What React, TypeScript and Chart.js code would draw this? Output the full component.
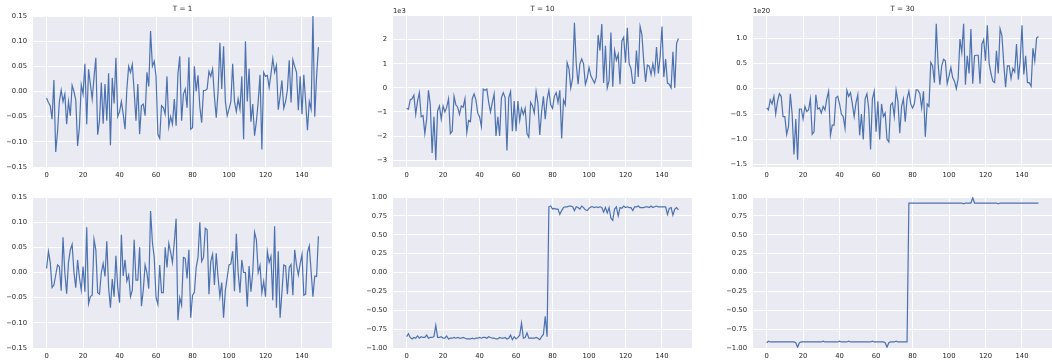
import { useEffect, useRef } from "react";
import { Chart, registerables } from "chart.js";

Chart.register(...registerables);

// ---------------- data ----------------
const X_TICKS = [0, 20, 40, 60, 80, 100, 120, 140];
const X_MIN = -7.45;
const X_MAX = 156.45;

const TITLES = ["T = 1", "T = 10", "T = 30"];
const OFFSET_T10 = "1e3";
const OFFSET_T30 = "1e20";

const Y_TICKS_SMALL = [-0.15, -0.1, -0.05, 0, 0.05, 0.1, 0.15];
const Y_TICKS_T10 = [-3, -2, -1, 0, 1, 2];
const Y_TICKS_T30 = [-1.5, -1.0, -0.5, 0, 0.5, 1.0];
const Y_TICKS_UNIT = [-1, -0.75, -0.5, -0.25, 0, 0.25, 0.5, 0.75, 1];

// top row, T = 1
const topT1 = [
  -0.013, -0.022, -0.028, -0.055, 0.023, -0.120, -0.080, -0.020, 0.003, -0.020,
  -0.005, -0.065, -0.020, -0.048, 0.012, 0.000, -0.017, -0.108, -0.070, 0.013,
  -0.005, 0.055, -0.065, 0.044, 0.015, -0.015, 0.028, 0.067, -0.086, -0.058,
  0.018, -0.064, 0.015, -0.058, 0.036, -0.107, 0.027, -0.024, 0.067, -0.050,
  -0.040, -0.020, -0.045, -0.075, 0.005, 0.050, 0.038, 0.054, 0.000, -0.058,
  0.015, -0.085, -0.028, -0.025, -0.048, 0.038, 0.010, 0.120, 0.050, 0.060,
  0.030, -0.085, -0.093, -0.028, -0.032, -0.045, 0.030, -0.070, -0.050, -0.065,
  -0.015, -0.068, 0.035, 0.070, -0.058, -0.005, 0.005, -0.032, 0.068, -0.075,
  -0.072, 0.050, 0.000, 0.032, -0.030, -0.062, 0.002, 0.002, 0.005, 0.040,
  0.030, 0.045, -0.010, -0.052, 0.000, 0.097, 0.005, 0.090, -0.020, -0.048,
  -0.035, -0.020, 0.055, -0.020, -0.040, -0.015, -0.035, 0.030, -0.095, 0.100,
  -0.020, 0.045, -0.060, -0.025, -0.088, -0.060, -0.020, 0.033, -0.115, 0.038,
  0.030, 0.032, 0.008, 0.035, 0.065, 0.038, 0.052, -0.036, -0.010, 0.022,
  -0.033, -0.020, 0.003, 0.062, -0.022, 0.063, 0.050, 0.038, -0.037, 0.030,
  -0.045, 0.033, -0.020, -0.077, -0.020, -0.035, 0.150, -0.050, 0.030, 0.088,
];

// top row, T = 10 (units of 1e3)
const topT10 = [
  -0.85, -0.88, -0.50, -0.45, -0.30, -1.10, -0.55, -0.20, -1.20, -1.15,
  -1.90, -1.30, -0.10, -0.70, -2.70, -1.20, -3.00, -0.95, -0.75, -1.30,
  -0.75, -1.00, -0.80, -0.45, -1.90, -1.80, -0.35, -0.70, -0.80, -1.10,
  -0.75, -0.80, -0.45, -1.85, -1.35, -1.40, -0.45, -0.25, -0.50, -1.05,
  -1.20, -1.60, -0.05, -0.10, -0.05, -0.60, -1.00, -0.60, -0.25, -2.00,
  -1.20, -2.00, -0.40, -0.20, -0.40, -2.60, -0.40, -0.15, -1.80, -0.55,
  -1.80, -0.55, -1.35, -0.85, -1.10, -0.85, -1.90, -2.05, -0.60, -0.75,
  -1.05, -0.15, -0.65, -1.95, -1.00, -0.35, -1.30, -0.50, -0.10, -0.70,
  -0.85, -0.35, -0.20, -0.60, -0.10, -2.10, -0.50, -0.70, 1.05, 0.80,
  0.00, 0.40, 2.70, 1.00, 0.15, 1.00, 1.20, 1.00, 0.15, 0.40,
  0.85, 0.50, 0.35, 0.20, 0.45, 2.20, 1.55, 2.65, 0.20, 1.75,
  0.00, 0.30, 2.30, 0.05, 1.55, 1.15, 1.40, 0.15, 1.95, 2.10,
  1.05, 2.50, 1.00, 0.80, 0.20, 0.20, 1.55, 0.45, 2.55, 2.20,
  1.10, 0.25, 0.95, 0.90, 0.55, 1.00, 0.60, 1.70, 0.60, 1.30,
  2.55, 0.45, 1.20, 0.20, 0.15, 0.00, 1.50, 0.00, 1.85, 2.05,
];

// top row, T = 30 (units of 1e20)
const topT30 = [
  -0.38, -0.42, -0.22, -0.30, -0.15, -0.50, -0.25, -0.10, -0.15, -0.55,
  -0.55, -0.90, -0.75, -0.10, -0.50, -1.30, -0.60, -1.40, -0.40, -0.40,
  -0.60, -0.35, -0.45, -0.42, -0.20, -0.90, -0.85, -0.12, -0.40, -0.38,
  -0.48, -0.35, -0.42, -0.20, -0.05, -0.92, -0.72, -0.72, -0.18, -0.15,
  -0.30, -0.50, -0.55, -0.78, -0.03, -0.15, -0.08, -0.30, -0.55, -0.28,
  -0.12, -0.92, -0.50, -1.00, -0.20, -0.10, -0.40, -1.20, -0.20, -0.05,
  -0.85, -0.25, -1.00, -0.30, -0.55, -0.48, -1.00, -1.05, -0.32, -0.28,
  -0.55, -0.03, -0.25, -0.88, -0.35, -0.20, -0.65, -0.20, -0.05, -0.30,
  -0.38, -0.30, -0.02, -0.03, -0.10, -0.38, -0.05, -0.95, -0.30, -0.35,
  0.52, 0.45, 0.12, 1.28, 0.50, 0.08, 0.45, 0.58, 0.55, 0.10,
  0.25, 0.42, 0.22, 0.15, 0.00, 0.20, 0.98, 0.72, 1.28, 0.08,
  0.65, 0.30, 1.18, 0.10, 0.65, 0.66, 0.66, 0.10, 0.88, 0.97,
  0.55, 1.25, 0.50, 0.30, 0.15, 0.12, 0.75, 0.30, 1.18, 1.05,
  0.50, 0.03, 0.45, 0.45, 0.20, 0.40, 0.33, 0.88, 0.18, 0.55,
  1.25, 0.28, 0.65, 0.12, 0.12, 0.05, 0.80, 0.55, 1.00, 1.03,
];

// bottom row, T = 1
const bottomT1 = [
  0.008, 0.042, 0.020, -0.030, -0.025, -0.005, 0.015, 0.012, -0.036, 0.070,
  0.000, -0.042, 0.020, 0.045, 0.056, 0.000, -0.030, 0.025, -0.010, -0.035,
  0.012, -0.038, 0.090, -0.062, -0.048, -0.045, 0.066, 0.045, -0.040, -0.043,
  0.000, 0.018, -0.008, 0.062, -0.030, -0.070, -0.013, -0.048, 0.033, -0.030,
  -0.060, 0.075, -0.007, 0.025, -0.017, -0.005, -0.048, -0.035, 0.065, -0.015,
  -0.015, 0.050, -0.067, -0.035, 0.015, 0.000, -0.032, 0.122, 0.060, 0.030,
  -0.050, -0.063, 0.015, -0.040, -0.040, 0.050, 0.010, 0.058, 0.040, 0.020,
  0.060, 0.107, -0.095, -0.050, -0.065, 0.030, 0.028, -0.012, 0.045, -0.090,
  -0.045, -0.040, 0.010, 0.030, 0.100, 0.022, 0.030, 0.088, 0.085, -0.043,
  0.022, 0.036, -0.025, 0.038, -0.010, -0.048, -0.020, -0.090, -0.035, -0.010,
  0.015, 0.017, 0.042, -0.037, 0.077, 0.000, -0.040, 0.025, 0.000, 0.000,
  -0.068, 0.013, -0.038, 0.000, 0.080, 0.065, 0.000, 0.014, -0.040, -0.018,
  -0.048, 0.042, 0.020, 0.032, -0.055, 0.092, -0.070, 0.042, -0.090, -0.040,
  0.015, 0.013, -0.043, 0.010, 0.016, -0.045, 0.045, 0.015, -0.005, 0.017,
  0.036, -0.045, -0.043, 0.040, 0.053, 0.002, -0.048, -0.007, -0.008, 0.072,
];

// bottom row, T = 10
const bottomT10 = [
  -0.85, -0.81, -0.86, -0.88, -0.86, -0.87, -0.84, -0.87, -0.85, -0.86,
  -0.86, -0.83, -0.87, -0.86, -0.86, -0.85, -0.70, -0.86, -0.86, -0.85,
  -0.87, -0.87, -0.84, -0.88, -0.87, -0.87, -0.86, -0.87, -0.86, -0.87,
  -0.87, -0.86, -0.87, -0.88, -0.88, -0.88, -0.87, -0.88, -0.87, -0.87,
  -0.86, -0.87, -0.86, -0.86, -0.87, -0.85, -0.86, -0.87, -0.87, -0.88,
  -0.88, -0.86, -0.87, -0.87, -0.86, -0.88, -0.87, -0.83, -0.89, -0.85,
  -0.88, -0.86, -0.83, -0.67, -0.87, -0.86, -0.80, -0.87, -0.87, -0.87,
  -0.87, -0.86, -0.87, -0.89, -0.85, -0.82, -0.58, -0.85, 0.87, 0.88,
  0.84, 0.85, 0.84, 0.84, 0.77, 0.82, 0.86, 0.87, 0.87, 0.88,
  0.88, 0.87, 0.82, 0.87, 0.86, 0.84, 0.88, 0.86, 0.83, 0.82,
  0.85, 0.87, 0.87, 0.86, 0.87, 0.86, 0.87, 0.86, 0.80, 0.86,
  0.79, 0.86, 0.72, 0.69, 0.84, 0.87, 0.75, 0.86, 0.85, 0.88,
  0.86, 0.87, 0.86, 0.86, 0.82, 0.87, 0.87, 0.88, 0.86, 0.86,
  0.86, 0.87, 0.87, 0.86, 0.88, 0.86, 0.87, 0.88, 0.87, 0.87,
  0.87, 0.87, 0.87, 0.77, 0.85, 0.86, 0.76, 0.84, 0.86, 0.83,
];

// bottom row, T = 30
const bottomT30 = [
  -0.93, -0.91, -0.92, -0.92, -0.92, -0.92, -0.92, -0.92, -0.92, -0.92,
  -0.92, -0.92, -0.92, -0.92, -0.92, -0.92, -0.93, -0.99, -0.93, -0.92,
  -0.92, -0.92, -0.92, -0.92, -0.92, -0.92, -0.92, -0.92, -0.92, -0.92,
  -0.92, -0.91, -0.92, -0.92, -0.92, -0.92, -0.92, -0.92, -0.92, -0.92,
  -0.91, -0.92, -0.92, -0.92, -0.92, -0.91, -0.92, -0.92, -0.92, -0.92,
  -0.92, -0.92, -0.92, -0.92, -0.92, -0.92, -0.92, -0.92, -0.91, -0.92,
  -0.92, -0.92, -0.92, -0.92, -0.92, -0.93, -0.99, -0.93, -0.92, -0.92,
  -0.92, -0.91, -0.92, -0.92, -0.92, -0.92, -0.92, -0.92, 0.92, 0.92,
  0.92, 0.92, 0.92, 0.92, 0.92, 0.92, 0.92, 0.92, 0.92, 0.92,
  0.92, 0.92, 0.92, 0.92, 0.92, 0.92, 0.92, 0.92, 0.92, 0.92,
  0.92, 0.92, 0.92, 0.92, 0.92, 0.92, 0.92, 0.92, 0.91, 0.92,
  0.92, 0.92, 0.92, 0.99, 0.92, 0.92, 0.92, 0.92, 0.92, 0.92,
  0.92, 0.92, 0.92, 0.92, 0.92, 0.92, 0.92, 0.91, 0.92, 0.92,
  0.92, 0.92, 0.92, 0.92, 0.92, 0.92, 0.92, 0.92, 0.92, 0.92,
  0.92, 0.92, 0.92, 0.92, 0.92, 0.92, 0.92, 0.92, 0.92, 0.92,
];

// ---------------- styling / layout ----------------
const FONT = "'DejaVu Sans', 'Liberation Sans', sans-serif";
const TEXT = "#262626";
const LINE = "#4C72B0";
const FACE = "#EAEAF2";

const COLS = [
  { left: 0, yw: 33 },
  { left: 345, yw: 48 },
  { left: 705, yw: 48 },
];
const PLOT_W = 299;
const ROWS = [
  { top: 0, height: 181, xh: 14 },
  { top: 181, height: 179, xh: 12 },
];
const PAD_TOP = 16;

type PanelCfg = {
  values: number[];
  title: string;
  offset: string;
  yMin: number;
  yMax: number;
  yTicks: number[];
  dec: number;
  col: number;
  row: number;
};

const PANELS: PanelCfg[] = [
  { values: topT1, title: TITLES[0], offset: "", yMin: -0.15, yMax: 0.15, yTicks: Y_TICKS_SMALL, dec: 2, col: 0, row: 0 },
  { values: topT10, title: TITLES[1], offset: OFFSET_T10, yMin: -3.285, yMax: 2.985, yTicks: Y_TICKS_T10, dec: 0, col: 1, row: 0 },
  { values: topT30, title: TITLES[2], offset: OFFSET_T30, yMin: -1.545, yMax: 1.435, yTicks: Y_TICKS_T30, dec: 1, col: 2, row: 0 },
  { values: bottomT1, title: "", offset: "", yMin: -0.15, yMax: 0.15, yTicks: Y_TICKS_SMALL, dec: 2, col: 0, row: 1 },
  { values: bottomT10, title: "", offset: "", yMin: -1, yMax: 1, yTicks: Y_TICKS_UNIT, dec: 2, col: 1, row: 1 },
  { values: bottomT30, title: "", offset: "", yMin: -1, yMax: 1, yTicks: Y_TICKS_UNIT, dec: 2, col: 2, row: 1 },
];

function fmt(v: number, d: number): string {
  const s = Math.abs(v).toFixed(d);
  return (v < -1e-9 ? "\u2212" : "") + s;
}

const panelText = {
  id: "panelText",
  beforeDraw(chart: any) {
    const { ctx, chartArea } = chart;
    ctx.save();
    ctx.fillStyle = FACE;
    ctx.fillRect(chartArea.left, chartArea.top, chartArea.right - chartArea.left, chartArea.bottom - chartArea.top);
    ctx.restore();
  },
  afterDraw(chart: any, _args: any, opts: any) {
    const { ctx, chartArea } = chart;
    ctx.save();
    ctx.fillStyle = TEXT;
    if (opts.title) {
      ctx.font = `7.2px ${FONT}`;
      ctx.textAlign = "center";
      ctx.textBaseline = "middle";
      ctx.fillText(opts.title, (chartArea.left + chartArea.right) / 2, 9);
    }
    if (opts.offset) {
      ctx.font = `6.8px ${FONT}`;
      ctx.textAlign = "left";
      ctx.textBaseline = "middle";
      ctx.fillText(opts.offset, chartArea.left, 11.5);
    }
    ctx.restore();
  },
};

function Panel({ cfg }: { cfg: PanelCfg }) {
  const ref = useRef<HTMLCanvasElement>(null);
  const col = COLS[cfg.col];
  const row = ROWS[cfg.row];
  const width = col.yw + PLOT_W;
  const height = row.height;

  useEffect(() => {
    const chart = new Chart(ref.current as HTMLCanvasElement, {
      type: "line",
      data: {
        datasets: [
          {
            data: cfg.values.map((v, i) => ({ x: i, y: v })),
            borderColor: LINE,
            borderWidth: 1.2,
            pointRadius: 0,
            tension: 0,
            fill: false,
          },
        ],
      },
      plugins: [panelText as any],
      options: {
        animation: false,
        responsive: false,
        devicePixelRatio: 1,
        layout: { padding: { top: PAD_TOP, left: 0, right: 0, bottom: 0 } },
        plugins: {
          legend: { display: false },
          tooltip: { enabled: false },
          panelText: { title: cfg.title, offset: cfg.offset },
        } as any,
        scales: {
          x: {
            type: "linear",
            min: X_MIN,
            max: X_MAX,
            afterBuildTicks: (s: any) => {
              s.ticks = X_TICKS.map((v) => ({ value: v }));
            },
            afterFit: (s: any) => {
              s.height = row.xh;
            },
            grid: { color: "#ffffff", lineWidth: 1, drawTicks: false },
            border: { display: false },
            ticks: {
              padding: 4,
              color: TEXT,
              font: { family: FONT, size: 6.8 },
              maxRotation: 0,
              autoSkip: false,
              callback: (v: any) => String(v),
            },
          },
          y: {
            type: "linear",
            min: cfg.yMin,
            max: cfg.yMax,
            afterBuildTicks: (s: any) => {
              s.ticks = cfg.yTicks.map((v) => ({ value: v }));
            },
            afterFit: (s: any) => {
              s.width = col.yw;
            },
            grid: { color: "#ffffff", lineWidth: 1, drawTicks: false },
            border: { display: false },
            ticks: {
              padding: 6,
              color: TEXT,
              font: { family: FONT, size: 6.8 },
              autoSkip: false,
              callback: (v: any) => fmt(Number(v), cfg.dec),
            },
          },
        },
      } as any,
    });
    return () => chart.destroy();
  }, []);

  return (
    <canvas
      ref={ref}
      width={width}
      height={height}
      style={{ position: "absolute", left: col.left, top: row.top, width, height }}
    />
  );
}

export default function App() {
  return (
    <div style={{ position: "fixed", left: 0, top: 0, width: 1052, height: 360, background: "#ffffff", overflow: "hidden" }}>
      {PANELS.map((p, i) => (
        <Panel key={i} cfg={p} />
      ))}
    </div>
  );
}
